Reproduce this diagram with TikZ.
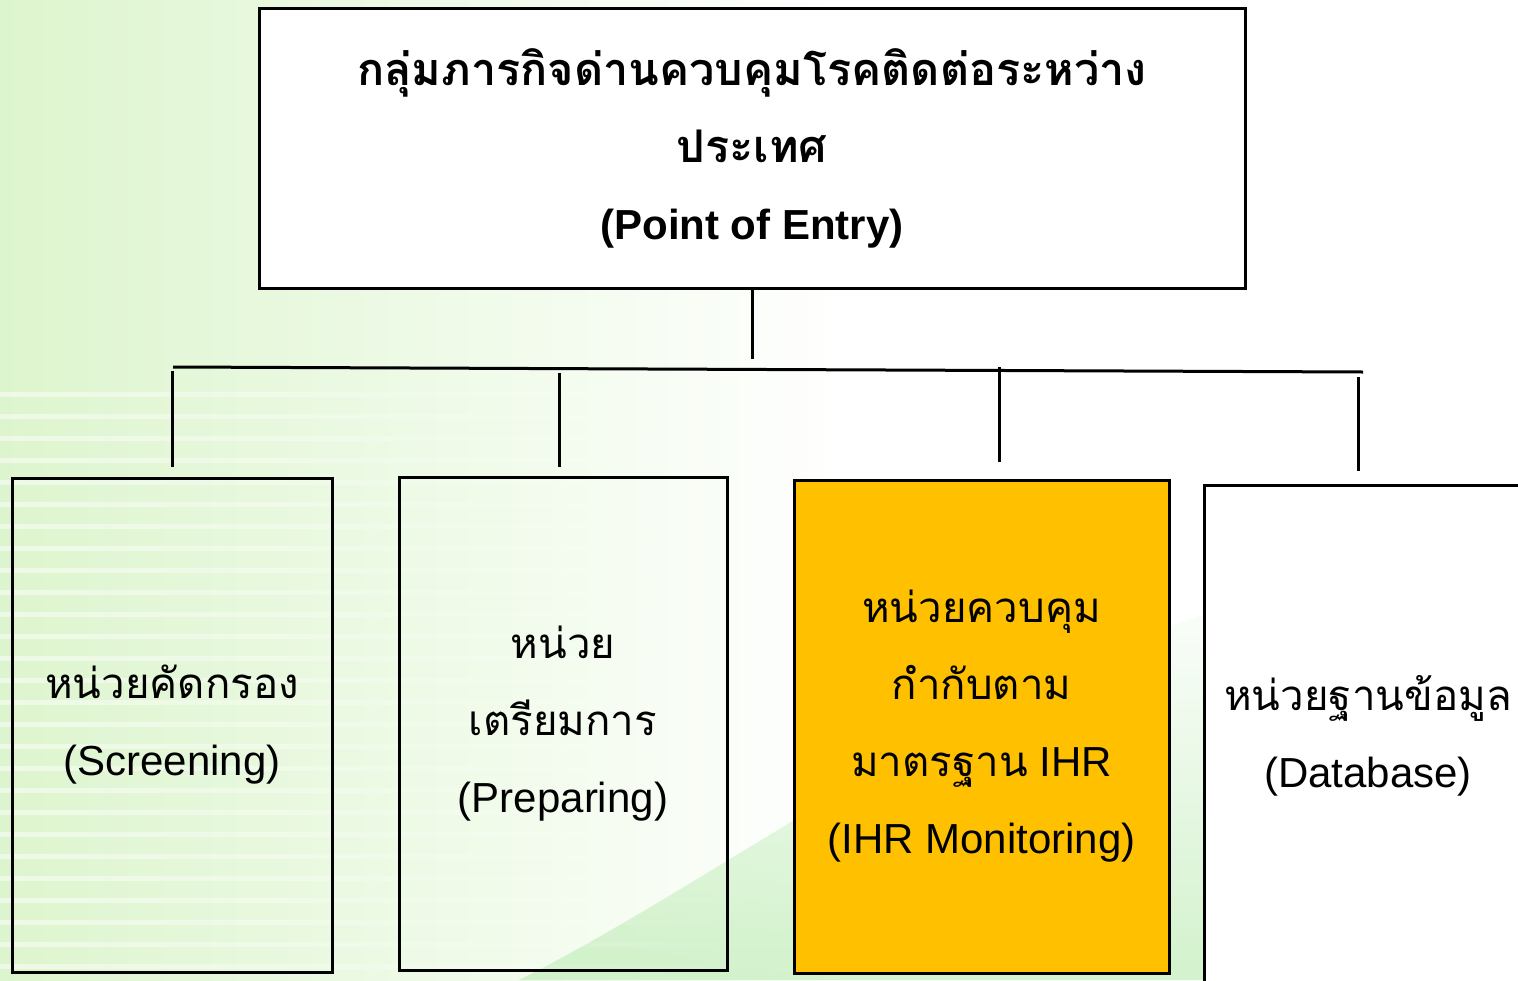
\documentclass[tikz,border=0pt]{standalone}
\usepackage{fontspec}
\setmainfont{Liberation Sans}
\newfontfamily\thaifont[Script=Thai]{Loma}
\usetikzlibrary{positioning,fadings}
\definecolor{bgleft}{HTML}{DDF5CE}
\definecolor{swoosh}{HTML}{C4EEBC}
\definecolor{ihrfill}{HTML}{FFC000}
\tikzset{
  unit/.style={draw=black,line width=3pt,minimum width=#1,align=center,
    font=\fontsize{42}{77}\selectfont,inner sep=0pt},
  link/.style={line width=3pt}
}
\begin{document}
\begin{tikzpicture}[x=1pt,y=-1pt]
% nen
\useasboundingbox (0,0) rectangle (1518,980);
\fill[white] (0,0) rectangle (1518,980);
\shade[left color=bgleft,right color=white] (0,0) rectangle (850,980);
\fill[swoosh,opacity=0.75,path fading=north] (520,980) .. controls (720,880) and (980,680) .. (1250,600)
  -- (1518,570) -- (1518,980) -- cycle;
\foreach \y in {392,414,...,980}
\fill[white,opacity=0.5,path fading=east] (0,\y) rectangle (780,\y+5);
% khung tren
\node[unit=986pt,minimum height=280pt,fill=white,font=\fontsize{42}{77}\selectfont\bfseries] (poe) at (752,148)
  {{\thaifont\fontsize{45}{77}\selectfont กลุ่มภารกิจด่านควบคุมโรคติดต่อระหว่าง}\\{\thaifont\fontsize{45}{77}\selectfont ประเทศ}\\(Point of Entry)};
% bon hop duoi
\node[unit=320pt,minimum height=494pt] (screen) at (172,725)
  {{\thaifont หน่วยคัดกรอง}\\(Screening)};
\node[unit=328pt,minimum height=493pt] (prep) at (563,723.5)
  {{\thaifont หน่วย}\\{\thaifont เตรียมการ}\\(Preparing)};
\node[unit=375pt,minimum height=493pt,fill=ihrfill] (ihr) at (981.5,726.5)
  {{\thaifont หน่วยควบคุม}\\{\thaifont กำกับตาม}\\{\thaifont มาตรฐาน} IHR\\(IHR Monitoring)};
\node[unit=328pt,minimum height=502pt,fill=white] (db) at (1368,736)
  {{\thaifont หน่วยฐานข้อมูล}\\(Database)};
% cac duong noi
\coordinate (barL) at (173,367);
\coordinate (barR) at (1363,372);
\draw[link] (poe.south) -- ++(0,69);
\draw[link] (barL) -- (barR);
\draw[link] ([yshift=10pt]screen.north) -- ++(0,-96);
\draw[link] ([xshift=-4pt,yshift=9pt]prep.north) -- ++(0,-94);
\draw[link] ([xshift=18pt,yshift=17pt]ihr.north) -- ++(0,-95);
\draw[link] ([xshift=-10pt,yshift=13pt]db.north) -- ++(0,-94);
\end{tikzpicture}
\end{document}
